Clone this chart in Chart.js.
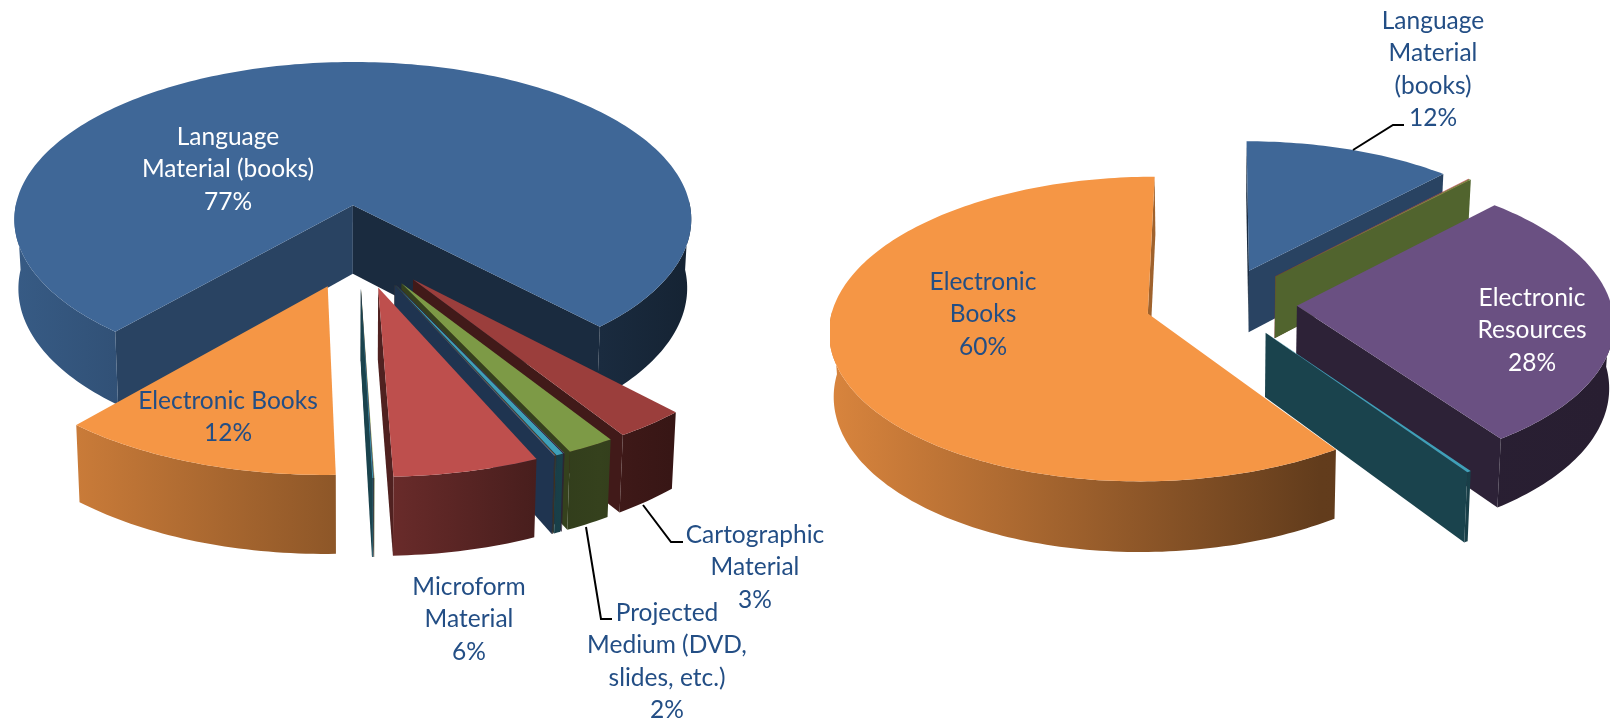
<!DOCTYPE html>
<html>
<head>
<meta charset="utf-8">
<title>Collection by material type</title>
<script src="https://cdn.jsdelivr.net/npm/chart.js@4/dist/chart.umd.min.js"></script>
<style>
  html, body { margin: 0; padding: 0; background: #fff; overflow: hidden; }
  canvas { position: absolute; top: 0; }
</style>
</head>
<body>
<canvas id="left" width="830" height="720" style="left:0"></canvas>
<canvas id="right" width="780" height="720" style="left:830px"></canvas>
<script>
// clockwise from the first slice; unnamed ones are the thin unlabelled slivers
var leftCategories = ["Language Material (books)", "Cartographic Material", "Projected Medium (DVD, slides, etc.)",
  "Other 1", "Other 2", "Other 3", "Other 4", "Microform Material", "Other 5", "Other 6", "Other 7", "Electronic Books"];
var leftValues = [76.6, 3, 2, 0.03, 0.3, 0.03, 0.03, 6.1, 0.02, 0.02, 0.04, 11.85];
var leftColors = ["#3F6797", "#9B3E3C", "#7D9A46", "#6A5082", "#3FA0B8", "#C86A1F", "#4A7CBE", "#BE4F4D",
  "#9BBB59", "#6A5082", "#3FA0B8", "#F59645"];

var rightCategories = ["Language Material (books)", "Other 1", "Other 2", "Electronic Resources", "Other 3", "Electronic Books"];
var rightValues = [12, 0.05, 0.1, 28.1, 0.2, 59.55];
var rightColors = ["#3F6797", "#BE4F4D", "#7D9A46", "#6A5082", "#3FA0B8", "#F59645"];

var textColor = "#234E85";

var leftView = {
  left: 0, rotation: 221, explode: 88, nudge: { 0: -3.5 },
  cx: 358, cy: 246, radius: 345, ratio: 0.474, persp: 3750, depth: 70, vx: 350, shrink: 0.988,
  wall: [[13, 0.88], [334, 0.58], [392, 0.55], [535, 0.38], [600, 0.42], [690, 0.34]],
  notes: [
    { i: 0, text: ["Language", "Material (books)"], x: 228, y: 137, color: "#fff" },
    { i: 11, text: ["Electronic Books"], x: 228, y: 401, color: textColor },
    { i: 7, text: ["Microform", "Material"], x: 469, y: 587, color: textColor },
    { i: 2, text: ["Projected", "Medium (DVD,", "slides, etc.)"], x: 667, y: 613, color: textColor },
    { i: 1, text: ["Cartographic", "Material"], x: 755, y: 535, color: textColor }
  ],
  leaders: [
    [[643, 505], [671, 542], [683, 542]],
    [[586, 527], [601, 619], [612, 619]]
  ]
};

var rightView = {
  left: 830, rotation: 0, explode: [75, 79, 79, 75, 75, 75], nudge: { 5: -2 },
  cx: 1222, cy: 303, radius: 314, ratio: 0.4734, persp: 3115, depth: 63, vx: 1215, shrink: 0.988,
  wall: [[833, 0.88], [1320, 0.4], [1610, 0.38]],
  notes: [
    { i: 0, text: ["Language", "Material", "(books)"], x: 1433, y: 21, color: textColor },
    { i: 5, text: ["Electronic", "Books"], x: 983, y: 282, color: textColor },
    { i: 3, text: ["Electronic", "Resources"], x: 1532, y: 298, color: "#fff" }
  ],
  leaders: [
    [[1353, 150], [1393, 125], [1404, 125]]
  ]
};

function shade(hex, f) {
  var r = parseInt(hex.substr(1, 2), 16) * f;
  var g = parseInt(hex.substr(3, 2), 16) * f;
  var b = parseInt(hex.substr(5, 2), 16) * f;
  return "rgb(" + Math.round(r) + "," + Math.round(g) + "," + Math.round(b) + ")";
}

function project(view, u, v, low) {
  var k = 1 / (1 - v / view.persp);
  var x = view.cx + u * k;
  var y = view.cy + v * k * view.ratio;
  if (low) {
    x = view.vx + (x - view.vx) * view.shrink;
    y += view.depth * k;
  }
  return [x, y];
}

function fillPoly(ctx, pts, style) {
  ctx.beginPath();
  ctx.moveTo(pts[0][0], pts[0][1]);
  for (var i = 1; i < pts.length; i++) {
    ctx.lineTo(pts[i][0], pts[i][1]);
  }
  ctx.closePath();
  ctx.fillStyle = style;
  ctx.fill();
}

function drawSlice(ctx, view, arc, index) {
  var color = arc.options.backgroundColor;
  var off = arc.options.offset;
  var a0 = arc.startAngle, a1 = arc.endAngle;
  var mid = (a0 + a1) / 2;
  var ox = Math.cos(mid) * off + (view.nudge[index] || 0);
  var oy = Math.sin(mid) * off;
  var R = view.radius;

  function rim(a, low) {
    return project(view, ox + R * Math.cos(a), oy + R * Math.sin(a), low);
  }
  // normal is the wall's outward direction, back facing walls stay hidden
  function radialWall(a, nx, ny) {
    if (ny < -0.02) {
      return;
    }
    var pts = [project(view, ox, oy, false), rim(a, false), rim(a, true), project(view, ox, oy, true)];
    fillPoly(ctx, pts, shade(color, nx > 0 ? 0.65 : 0.42));
  }

  radialWall(a0, Math.sin(a0), -Math.cos(a0));
  radialWall(a1, -Math.sin(a1), Math.cos(a1));

  var x0 = view.wall[0][0], x1 = view.wall[view.wall.length - 1][0];
  var grad = ctx.createLinearGradient(x0, 0, x1, 0);
  view.wall.forEach(function (s) {
    grad.addColorStop((s[0] - x0) / (x1 - x0), shade(color, s[1]));
  });

  var steps = Math.max(2, Math.ceil((a1 - a0) / 0.02));
  var upper = [], lower = [], top = [], i, a;
  function flush() {
    if (upper.length > 1) {
      fillPoly(ctx, upper.concat(lower.reverse()), grad);
    }
    upper = [];
    lower = [];
  }
  for (i = 0; i <= steps; i++) {
    a = a0 + (a1 - a0) * i / steps;
    top.push(rim(a, false));
    if (Math.sin(a) > -0.03) {
      upper.push(rim(a, false));
      lower.push(rim(a, true));
    } else {
      flush();
    }
  }
  flush();

  fillPoly(ctx, [project(view, ox, oy, false)].concat(top), color);
}

function pie3d(view) {
  return {
    id: "pie3d",
    beforeDatasetsDraw: function (chart) {
      var ctx = chart.ctx;
      ctx.save();
      ctx.translate(-view.left, 0);
      chart.getDatasetMeta(0).data.forEach(function (arc, index) {
        drawSlice(ctx, view, arc, index);
      });
      ctx.restore();
      return false;
    },
    afterDraw: function (chart) {
      var ctx = chart.ctx;
      var values = chart.data.datasets[0].data;
      var total = values.reduce(function (a, b) { return a + b; }, 0);
      ctx.save();
      ctx.translate(-view.left, 0);

      ctx.strokeStyle = "#000";
      ctx.lineWidth = 2;
      view.leaders.forEach(function (line) {
        ctx.beginPath();
        ctx.moveTo(line[0][0], line[0][1]);
        ctx.lineTo(line[1][0], line[1][1]);
        ctx.lineTo(line[2][0], line[2][1]);
        ctx.stroke();
      });

      ctx.font = "24.5px Lato";
      ctx.textAlign = "center";
      ctx.textBaseline = "middle";
      view.notes.forEach(function (n) {
        var lines = n.text.concat([Math.round(values[n.i] / total * 100) + "%"]);
        ctx.fillStyle = n.color;
        lines.forEach(function (line, j) {
          ctx.fillText(line, n.x, n.y + j * 32.4);
        });
      });
      ctx.restore();
    }
  };
}

function makeChart(id, view, categories, values, colors) {
  new Chart(document.getElementById(id), {
    type: "pie",
    data: {
      labels: categories,
      datasets: [{ data: values, backgroundColor: colors, offset: view.explode, borderWidth: 0 }]
    },
    options: {
      responsive: false,
      animation: false,
      rotation: view.rotation,
      plugins: { legend: { display: false }, tooltip: { enabled: false } }
    },
    plugins: [pie3d(view)]
  });
}

makeChart("left", leftView, leftCategories, leftValues, leftColors);
makeChart("right", rightView, rightCategories, rightValues, rightColors);
</script>
</body>
</html>
